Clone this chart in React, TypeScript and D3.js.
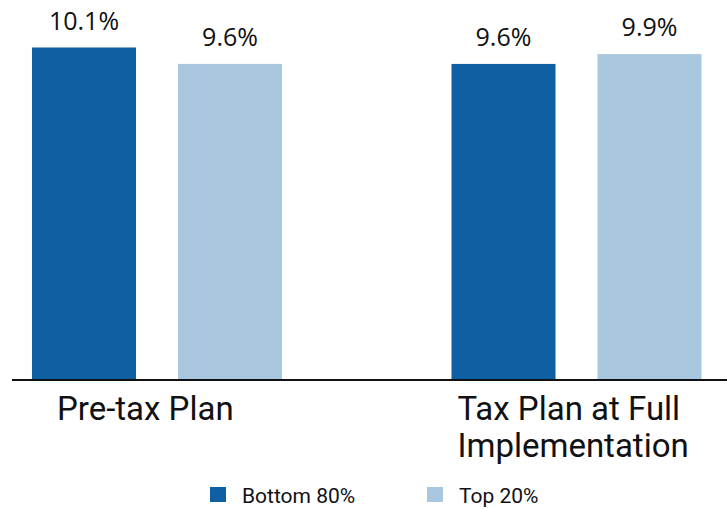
import React from "react";
import * as d3 from "d3";

const categories = ["Pre-tax Plan", "Tax Plan at Full Implementation"];
const categoryLines = [["Pre-tax Plan"], ["Tax Plan at Full", "Implementation"]];
const series = ["Bottom 80%", "Top 20%"];
const bottom80 = [10.1, 9.6];
const top20 = [9.6, 9.9];
const valueLabels = [["10.1%", "9.6%"], ["9.6%", "9.9%"]];
const colors = ["#0f5fa3", "#a9c7df"];

const W = 727;
const H = 510;
const baseY = 379;

export default function App() {
  const x0 = d3.scaleBand<string>().domain(categories).range([9, 724.5]).paddingInner(0.404).paddingOuter(0.0548);
  const x1 = d3.scaleBand<string>().domain(series).range([0, x0.bandwidth()]).paddingInner(0.2877);
  const y = d3.scaleLinear().domain([0, 10.1]).range([baseY, 47.5]);
  const values = [bottom80, top20];

  return (
    <svg width={W} height={H} style={{ position: "absolute", left: 0, top: 0, background: "#fff" }}>
      {categories.map((c, ci) => (
        <g key={c} transform={`translate(${x0(c)},0)`}>
          {series.map((s, si) => {
            const v = values[si][ci];
            const bx = x1(s)!;
            return (
              <g key={s}>
                <rect x={bx} y={y(v)} width={x1.bandwidth()} height={baseY - y(v)} fill={colors[si]} />
                <text x={bx + x1.bandwidth() / 2} y={y(v) - 18} textAnchor="middle" fontFamily="'Open Sans', sans-serif" fontSize={25} fill="#111">
                  {valueLabels[ci][si]}
                </text>
              </g>
            );
          })}
          {categoryLines[ci].map((line, li) => (
            <text key={li} x={ci === 0 ? 25 : 6} y={419.5 + li * 37} fontFamily="Roboto, sans-serif" fontSize={33} fill="#111">
              {line}
            </text>
          ))}
        </g>
      ))}
      <line x1={12} x2={W} y1={baseY + 1} y2={baseY + 1} stroke="#111" strokeWidth={2} />
      {series.map((s, si) => {
        const lx = [210, 427][si];
        return (
          <g key={s}>
            <rect x={lx} y={487} width={16} height={15} fill={colors[si]} />
            <text x={lx + 32} y={503} fontFamily="Roboto, sans-serif" fontSize={21} fill="#111">{s}</text>
          </g>
        );
      })}
    </svg>
  );
}
